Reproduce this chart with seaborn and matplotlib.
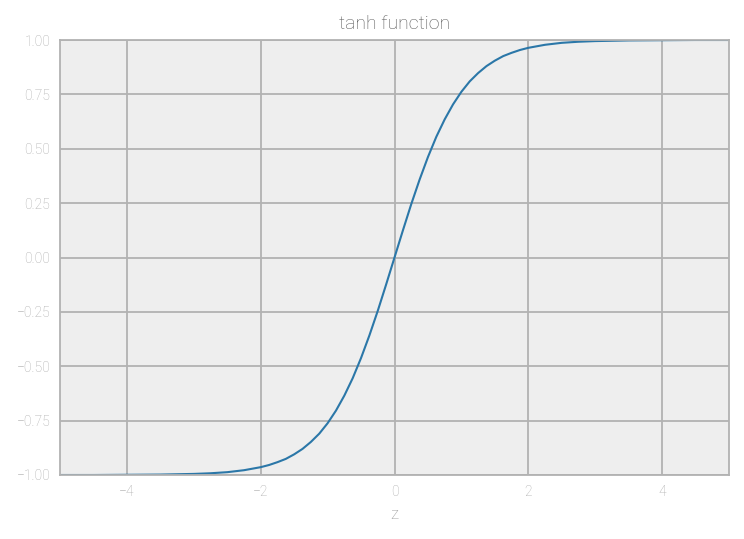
import matplotlib
matplotlib.use("Agg")
import matplotlib.pyplot as plt
import seaborn as sns
import pandas as pd

z_values = [-5.0, -4.5, -4.0, -3.5, -3.0, -2.75, -2.5, -2.25, -2.0, -1.875, -1.75, -1.625,
            -1.5, -1.375, -1.25, -1.125, -1.0, -0.875, -0.75, -0.625, -0.5, -0.375, -0.25,
            -0.125, 0.0, 0.125, 0.25, 0.375, 0.5, 0.625, 0.75, 0.875, 1.0, 1.125, 1.25,
            1.375, 1.5, 1.625, 1.75, 1.875, 2.0, 2.25, 2.5, 2.75, 3.0, 3.5, 4.0, 4.5, 5.0]
tanh_values = [-1.000, -1.000, -0.999, -0.998, -0.995, -0.992, -0.987, -0.978, -0.964,
               -0.954, -0.941, -0.926, -0.905, -0.880, -0.848, -0.810, -0.762, -0.704,
               -0.635, -0.555, -0.462, -0.358, -0.245, -0.124, 0.000, 0.124, 0.245,
               0.358, 0.462, 0.555, 0.635, 0.704, 0.762, 0.810, 0.848, 0.880, 0.905,
               0.926, 0.941, 0.954, 0.964, 0.978, 0.987, 0.992, 0.995, 0.998, 0.999,
               1.000, 1.000]
x_ticks = [-4, -2, 0, 2, 4]
y_ticks = [-1.00, -0.75, -0.50, -0.25, 0.00, 0.25, 0.50, 0.75, 1.00]
title = "tanh function"
x_label = "z"

df = pd.DataFrame({"z": z_values, "tanh": tanh_values})

sns.set_theme(style="darkgrid")
plt.rcParams["font.family"] = ["Roboto", "DejaVu Sans"]
plt.rcParams["font.weight"] = "light"
plt.rcParams["lines.solid_joinstyle"] = "round"

fig = plt.figure(figsize=(7.44, 5.39), dpi=100)
ax = fig.add_axes([60/744, 1 - 475/539, (729 - 60)/744, (475 - 40)/539])
ax.set_facecolor("#EEEEEE")

sns.lineplot(data=df, x="z", y="tanh", ax=ax, color="#2b77a8", linewidth=1.5)

ax.set_xlim(-5, 5)
ax.set_ylim(-1, 1)
ax.set_xticks(x_ticks)
ax.set_yticks(y_ticks)
ax.set_yticklabels([f"{v:.2f}".replace("-", "\u2212") for v in y_ticks])
ax.set_xticklabels([str(v).replace("-", "\u2212") for v in x_ticks])
ax.grid(True, color="#B2B2B2", linewidth=1.3)
for s in ax.spines.values():
    s.set_visible(True)
    s.set_color("#B2B2B2")
    s.set_linewidth(1.3)
ax.tick_params(axis="both", colors="#B2B2B2", labelcolor="#AAAAAA", labelsize=10,
               length=4, width=1.0, direction="out", pad=3)
for lab in ax.get_xticklabels() + ax.get_yticklabels():
    lab.set_fontweight("light")
ax.set_xlabel(x_label, color="#999999", fontsize=12, fontweight="light", labelpad=6)
ax.set_ylabel("")
ax.set_title(title, color="#555555", fontsize=14, fontweight="light", pad=8)

fig.savefig("out.png", dpi=100, facecolor="white")
